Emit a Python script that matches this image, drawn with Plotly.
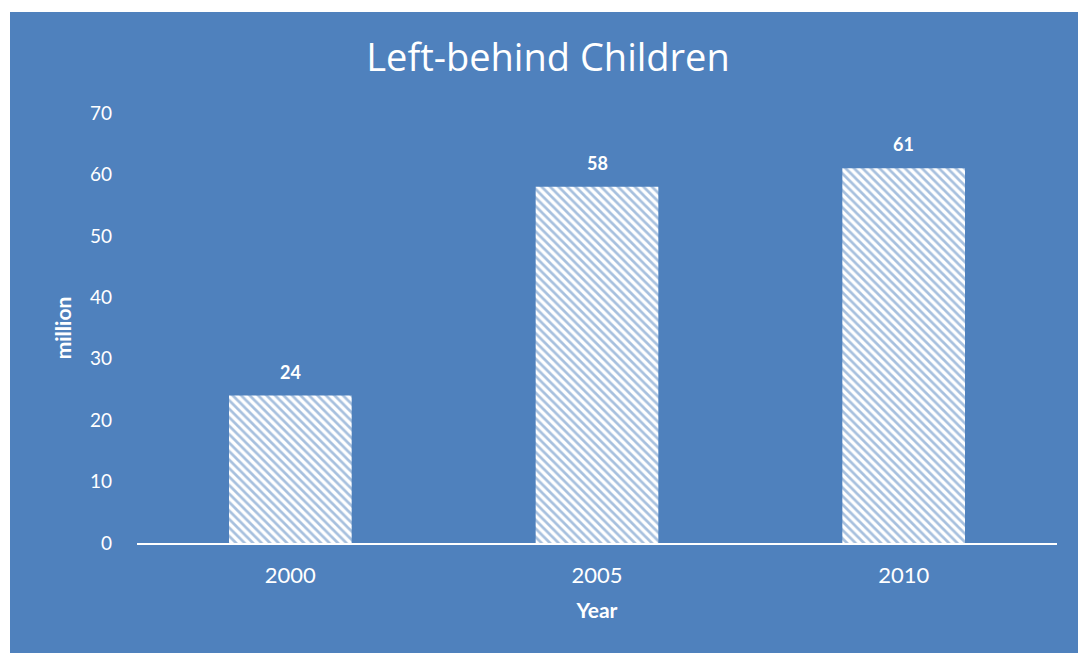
import plotly.graph_objects as go

years = ["2000", "2005", "2010"]
children_million = [24, 58, 61]
y_ticks = [0, 10, 20, 30, 40, 50, 60, 70]

BLUE = "#4F81BD"
FONT = "Lato"

fig = go.Figure()
fig.add_trace(go.Bar(
    x=years,
    y=children_million,
    marker=dict(
        color="white",
        line=dict(width=0),
        pattern=dict(shape="\\", fgcolor=BLUE, bgcolor="white", size=6, solidity=0.45),
    ),
    width=0.4,
))

# data labels (category axis: annotate by category index)
for i, v in enumerate(children_million):
    fig.add_annotation(
        x=i, y=v, text=str(v), showarrow=False,
        yanchor="middle", yshift=24,
        font=dict(family=FONT, size=18, color="white", weight="bold"),
    )

# page is rendered with an 8px body margin; figure coords = screen - 8
L, T, R, B = 129, 105, 37, 118
PW, PH = 1086 - L - R, 653 - T - B

fig.update_layout(
    width=1086,
    height=653,
    paper_bgcolor=BLUE,
    plot_bgcolor=BLUE,
    margin=dict(l=L, r=R, t=T, b=B),
    showlegend=False,
    title=dict(
        text="Left-behind Children",
        x=(548 - 8) / 1086, xanchor="center",
        y=1 - 50 / 653, yanchor="middle",
        font=dict(family="Open Sans", size=38, color="white"),
    ),
    xaxis=dict(
        type="category",
        categoryorder="array",
        categoryarray=years,
        range=[-0.5, len(years) - 0.5],
        showgrid=False,
        showline=True,
        linecolor="white",
        linewidth=2,
        ticks="",
        tickfont=dict(family=FONT, size=22, color="white"),
        ticklabelstandoff=12,
        title=dict(text="Year", standoff=16,
                   font=dict(family=FONT, size=21, color="white", weight="bold")),
    ),
    yaxis=dict(
        range=[0, 70],
        tickvals=y_ticks,
        showgrid=False,
        zeroline=False,
        showline=False,
        ticks="",
        tickfont=dict(family=FONT, size=19, color="white"),
        ticklabelstandoff=24,
        title=dict(text="million", standoff=12,
                   font=dict(family=FONT, size=21, color="white", weight="bold")),
    ),
    shapes=[
        # white page border strips (top and left) outside the blue chart area
        dict(type="rect", xref="paper", yref="paper",
             x0=-L / PW - 0.01, x1=(2 - L) / PW, y0=-B / PH - 0.01, y1=(PH + T) / PH + 0.01,
             fillcolor="white", line=dict(width=0), layer="above"),
        dict(type="rect", xref="paper", yref="paper",
             x0=-L / PW - 0.01, x1=1 + R / PW + 0.01, y0=(PH + T - 4) / PH, y1=(PH + T) / PH + 0.01,
             fillcolor="white", line=dict(width=0), layer="above"),
    ],
)

fig.write_html("out.html")
